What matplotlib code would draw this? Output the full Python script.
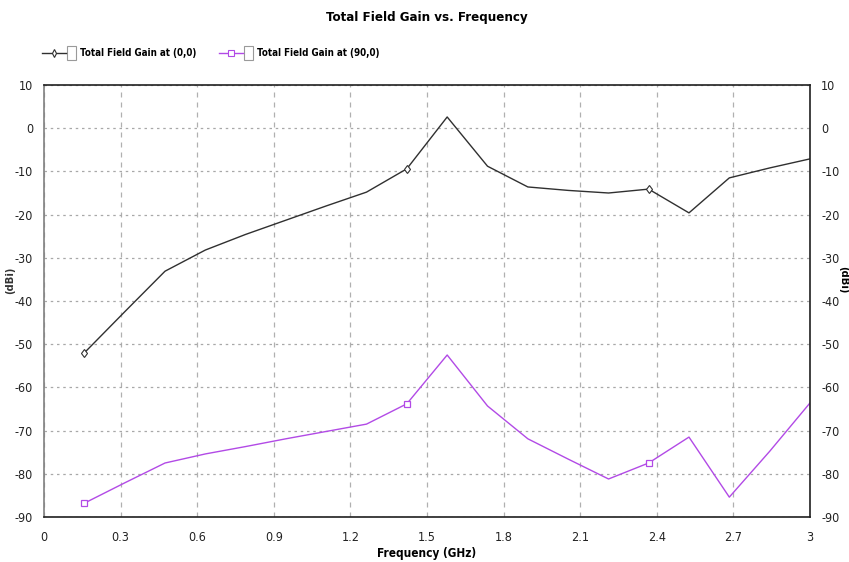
import matplotlib
matplotlib.use("Agg")
import matplotlib.pyplot as plt
from matplotlib.lines import Line2D
from matplotlib.patches import Rectangle
from matplotlib import font_manager

# look for a narrow / condensed face, like the reference's Arial Narrow-style text
reg_path, bold_path = None, None
for f in font_manager.fontManager.ttflist:
    fn = f.fname.lower()
    if ("narrow" in fn or "condensed" in fn) and "oblique" not in fn and "italic" not in fn:
        if "bold" in fn:
            if bold_path is None or "liberation" in fn:
                bold_path = f.fname
        else:
            if reg_path is None or "liberation" in fn:
                reg_path = f.fname

def fp(size, bold=False):
    path = bold_path if bold else reg_path
    if path:
        return font_manager.FontProperties(fname=path, size=size)
    return font_manager.FontProperties(family='Liberation Sans', size=size,
                                       weight='bold' if bold else 'normal')

# ---- data ----
freq_ghz = [0.158, 0.316, 0.474, 0.632, 0.789, 0.947, 1.105, 1.263, 1.421, 1.579,
            1.737, 1.895, 2.053, 2.211, 2.368, 2.526, 2.684, 2.842, 3.0]
gain_0_0 = [-52.0, -42.5, -33.1, -28.2, -24.6, -21.3, -18.0, -14.8, -9.4, 2.6,
            -8.8, -13.6, -14.4, -15.0, -14.1, -19.6, -11.5, -9.2, -7.1]
gain_90_0 = [-86.8, -82.1, -77.5, -75.4, -73.7, -71.9, -70.2, -68.5, -63.8, -52.5,
             -64.3, -71.9, -76.6, -81.2, -77.5, -71.5, -85.4, -74.8, -63.6]
marker_idx = [0, 8, 14]
series_labels = ["Total Field Gain at (0,0)", "Total Field Gain at (90,0)"]
x_ticks = [0, 0.3, 0.6, 0.9, 1.2, 1.5, 1.8, 2.1, 2.4, 2.7, 3]
x_tick_labels = ["0", "0.3", "0.6", "0.9", "1.2", "1.5", "1.8", "2.1", "2.4", "2.7", "3"]
y_ticks = [10, 0, -10, -20, -30, -40, -50, -60, -70, -80, -90]

c_black = "#303030"
c_purple = "#b24ae6"

fig = plt.figure(figsize=(8.49, 5.62), dpi=100)
ax = fig.add_axes([44/849, 1-517/562, (810-44)/849, (517-85)/562])

ax.plot(freq_ghz, gain_0_0, color=c_black, lw=1.0, marker='d', ms=4.5,
        mfc='white', mec=c_black, mew=0.8, markevery=marker_idx)
ax.plot(freq_ghz, gain_90_0, color=c_purple, lw=1.0, marker='s', ms=4,
        mfc='white', mec=c_purple, mew=0.9, markevery=marker_idx)

TICK = 9
ax.set_xlim(0, 3)
ax.set_ylim(-90, 10)
ax.set_xticks(x_ticks)
ax.set_xticklabels(x_tick_labels, fontproperties=fp(TICK))
ax.set_yticks(y_ticks)
ax.set_yticklabels([str(v) for v in y_ticks], fontproperties=fp(TICK))
ax.tick_params(axis='both', length=0, colors='#222222')
ax.tick_params(axis='x', pad=10)
ax.tick_params(axis='y', pad=8)
ax.tick_params(axis='y', which='both', right=False, labelright=True)
for t in ax.yaxis.get_major_ticks():
    t.label2.set_fontproperties(fp(TICK))

ax.xaxis.grid(True, color='#b0b0b0', linestyle=(0, (4, 4)), lw=0.9)
ax.yaxis.grid(True, color='#a8a8a8', linestyle=(0, (2, 3)), lw=0.9)
ax.set_axisbelow(True)

ax.spines['left'].set_color('#808080')
ax.spines['bottom'].set_color('#202020')
ax.spines['top'].set_color('#202020')
ax.spines['right'].set_color('#202020')
for s in ax.spines.values():
    s.set_linewidth(1.2)

ax.set_xlabel("Frequency (GHz)", fontproperties=fp(8.5, True), labelpad=2)

fig.text(10/849, 1-280/562, "(dBi)", rotation=90, ha='center', va='center',
         fontproperties=fp(8, True), color='#333333')
fig.text(843/849, 1-280/562, "(dBi)", rotation=270, ha='center', va='center',
         fontproperties=fp(8, True))

fig.text(427/849, 1-18/562, "Total Field Gain vs. Frequency", ha='center', va='center',
         fontproperties=fp(9.5, True))

# legend drawn manually
def legend_item(x0, color, marker, label):
    y = 1 - 53/562
    fig.add_artist(Line2D([x0/849, (x0+24)/849], [y, y], color=color, lw=1.0,
                          transform=fig.transFigure))
    fig.add_artist(Line2D([(x0+12)/849], [y], color=color, marker=marker, ms=4,
                          mfc='white', mec=color, mew=0.8, transform=fig.transFigure))
    fig.add_artist(Rectangle(((x0+25)/849, 1-60/562), 9/849, 14/562, fill=False,
                             ec='#9a9a9a', lw=0.8, transform=fig.transFigure))
    fig.text((x0+38)/849, y, label, ha='left', va='center', fontproperties=fp(7, True))

legend_item(42, c_black, 'd', series_labels[0])
legend_item(219, c_purple, 's', series_labels[1])

fig.savefig("out.png", dpi=100)
